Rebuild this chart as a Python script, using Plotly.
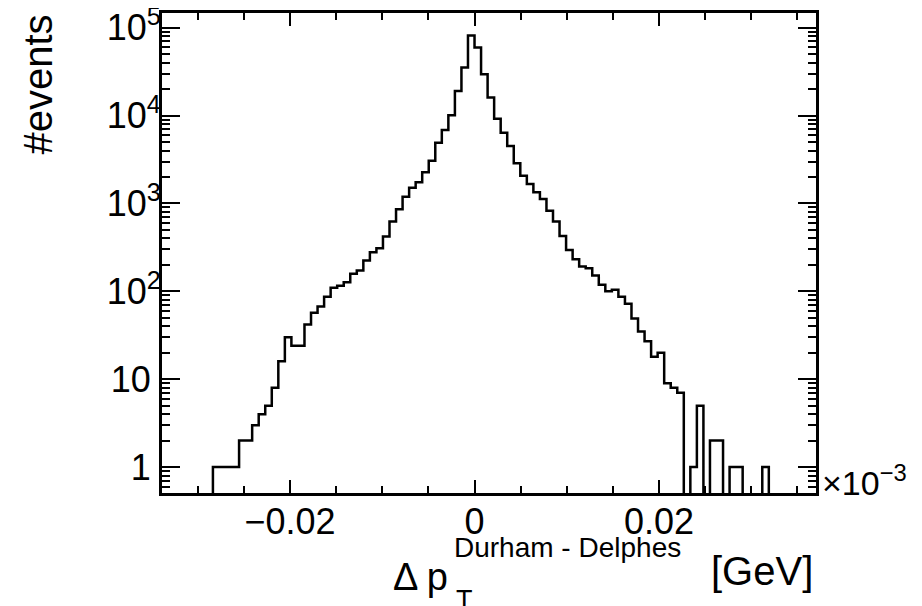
import plotly.graph_objects as go

# ---------------- data ----------------
bin_width = 0.000709
first_bin_index = -48          # bin k spans [k*w, (k+1)*w]
counts = [
    0, 0, 0, 0, 0, 0, 0, 0,
    1, 1, 1, 1,
    2, 2,
    3, 4, 5, 8, 16, 30, 24, 24, 42, 57, 67, 87, 110, 116, 127, 158, 172, 224,
    279, 309, 420, 621, 859, 1195, 1513, 1740, 2262, 3065, 4910, 6840, 10100,
    18970, 35300, 81500,
    59600, 29600, 16100, 9200, 6380, 4500, 2865, 2070, 1667, 1340, 1125, 828,
    621, 427, 296, 232, 191, 183, 151, 119, 100, 104, 87, 72, 49, 35, 27, 18,
    20, 9, 8, 7,
    0, 1, 5, 0, 2, 2, 0, 1, 1, 0, 0, 0, 1,
    0, 0, 0, 0, 0, 0, 0,
]
x_range = [-0.03388, 0.03702]
y_range_log = [-0.295, 5.167]
y_tickvals = [1, 10, 100, 1000, 10000, 100000]
y_ticktext = ["1\u00a0", "10\u00a0", "10<sup>2</sup>", "10<sup>3</sup>",
              "10<sup>4</sup>", "10<sup>5</sup>"]
x_tickvals = [-0.02, 0, 0.02]
x_ticktext = ["\u22120.02", "0", "0.02"]

# ---------------- geometry ----------------
# the page body has an 8px default margin, so the figure is drawn 8px in
OFF = 8
W, H = 922 - OFF, 606 - OFF
FL, FR, FT, FB = 162, 816, 13, 493          # frame edges in page pixels
ML, MT = FL - OFF, FT - OFF
MR, MB = W - (FR - OFF), H - (FB - OFF)
PW, PH = W - ML - MR, H - MT - MB


def px(xp):
    return (xp - OFF - ML) / PW


def py(yp):
    return (H - MB - (yp - OFF)) / PH


edges = [(first_bin_index + i) * bin_width for i in range(len(counts) + 1)]
floor = 1e-3
ys = [c if c > 0 else floor for c in counts]
ys = ys + [ys[-1]]

FONT = "Liberation Sans, Arial, Helvetica, sans-serif"

fig = go.Figure()
fig.add_trace(go.Scatter(
    x=edges, y=ys, mode="lines", line=dict(color="black", width=2.5, shape="hv"),
    showlegend=False, hoverinfo="skip"))

fig.update_layout(
    width=W, height=H,
    margin=dict(l=ML, r=MR, t=MT, b=MB, pad=0, autoexpand=False),
    paper_bgcolor="white", plot_bgcolor="white",
    font=dict(family=FONT, color="black", size=34),
    showlegend=False,
)
fig.update_xaxes(
    range=x_range, showgrid=False, zeroline=False, automargin=False,
    showline=True, linecolor="black", linewidth=3, mirror="ticks",
    ticks="inside", ticklen=13, tickwidth=2, tickcolor="black",
    tickvals=x_tickvals, ticktext=x_ticktext,
    tickfont=dict(size=36, family=FONT, color="black"),
    ticklabelstandoff=-5, ticklabeloverflow="allow",
    minor=dict(ticks="inside", ticklen=7, tickwidth=2, tickcolor="black",
               dtick=0.005, tick0=0, showgrid=False),
)
fig.update_yaxes(
    type="log", range=y_range_log, showgrid=False, zeroline=False, automargin=False,
    showline=True, linecolor="black", linewidth=3, mirror="ticks",
    ticks="inside", ticklen=18, tickwidth=2, tickcolor="black",
    tickvals=y_tickvals, ticktext=y_ticktext,
    tickfont=dict(size=36, family=FONT, color="black"),
    ticklabelstandoff=-9, ticklabeloverflow="allow",
    minor=dict(ticks="inside", ticklen=8, tickwidth=2, tickcolor="black",
               dtick="D1", showgrid=False),
)

ann = [
    dict(text="#events", x=px(37.5), y=py(85), textangle=-90, size=40),
    dict(text="\u0394 p", x=px(420), y=py(577), size=38),
    dict(text="T", x=px(464), y=py(600), size=27),
    dict(text="Durham - Delphes", x=px(567), y=py(547), size=28),
    dict(text="[GeV]", x=px(761.5), y=py(571), size=40),
]
for a in ann:
    fig.add_annotation(text=a["text"], x=a["x"], y=a["y"], xref="paper", yref="paper",
                       xanchor="center", yanchor="middle", showarrow=False,
                       textangle=a.get("textangle", 0),
                       font=dict(family=FONT, size=a["size"], color="black"))
fig.add_annotation(text="\u00d710<sup>\u22123</sup>", x=px(820), y=py(480),
                   xref="paper", yref="paper", xanchor="left", yanchor="middle",
                   showarrow=False, font=dict(family=FONT, size=34, color="black"))

fig.write_html("out.html")
